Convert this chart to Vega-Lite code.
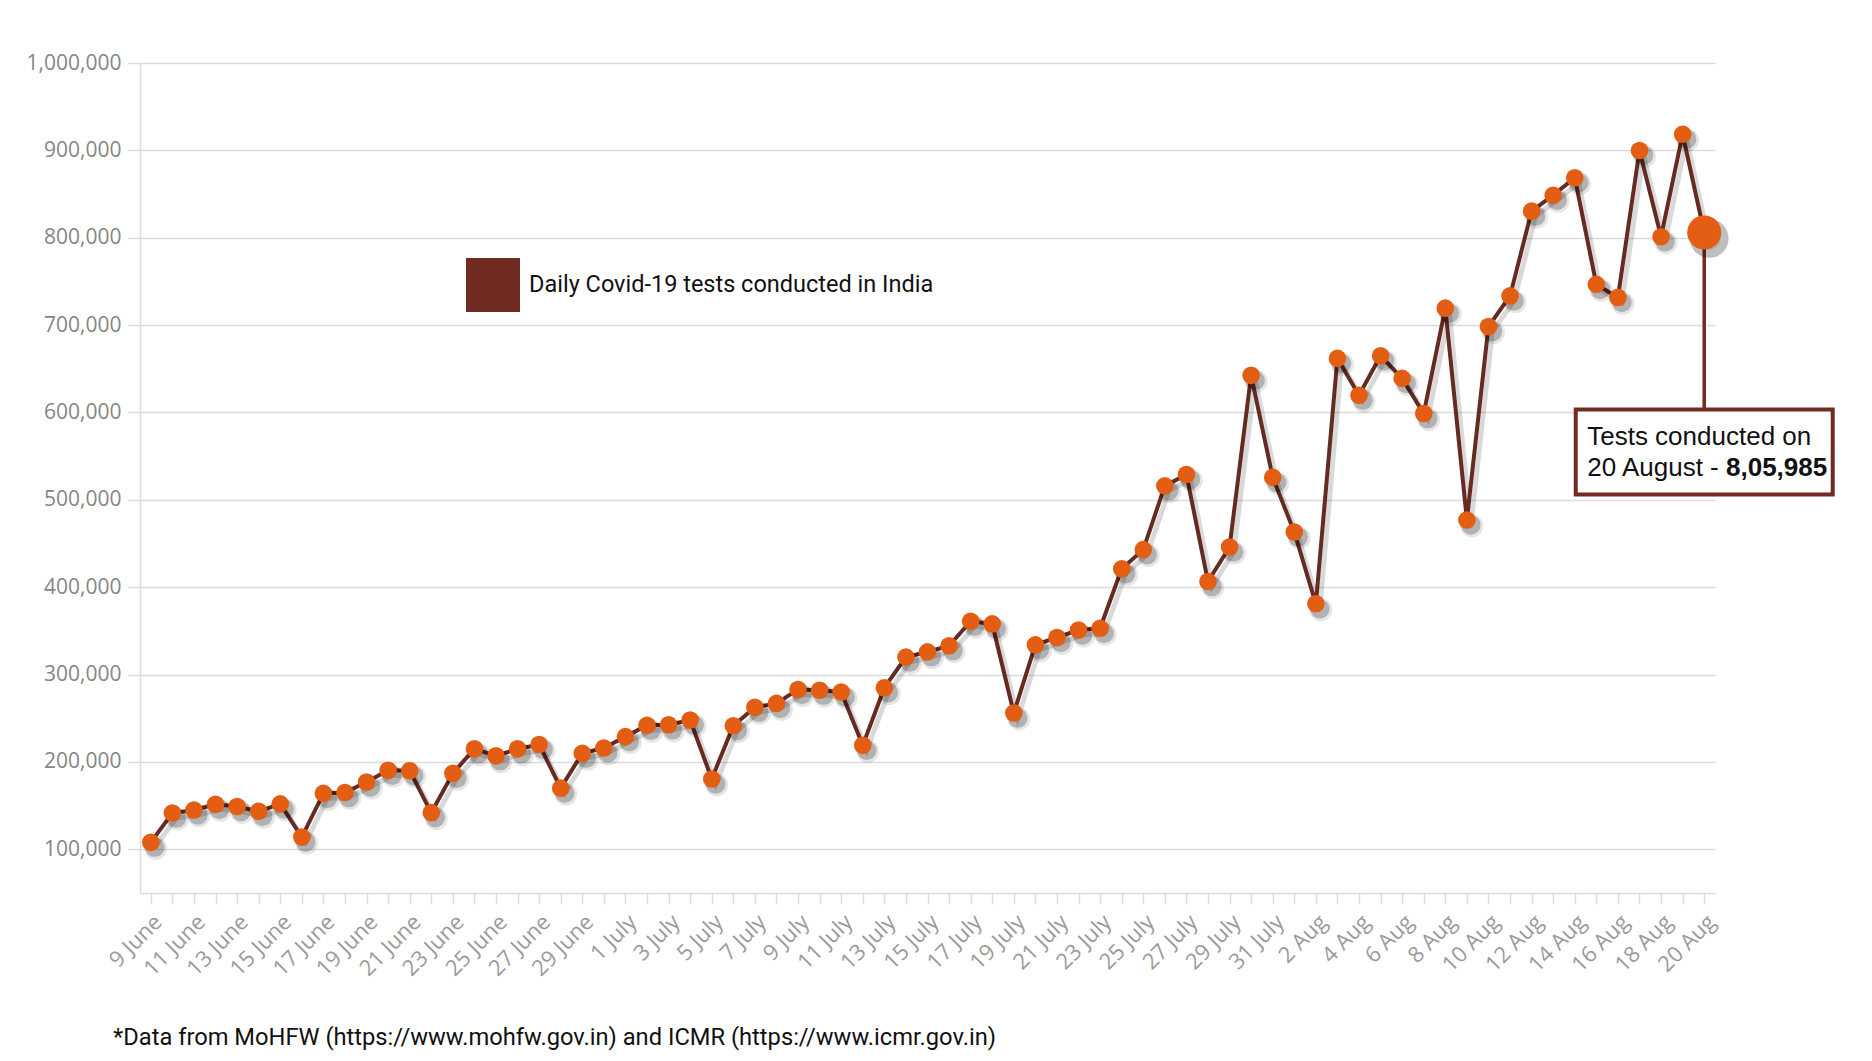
{
  "$schema": "https://vega.github.io/schema/vega-lite/v6.json",
  "autosize": {"type": "none"},
  "width": 1575,
  "height": 830,
  "padding": {"left": 140, "top": 63, "right": 157, "bottom": 168},
  "background": "white",
  "config": {"view": {"stroke": null}},
  "title": {
    "text": "*Data from MoHFW (https://www.mohfw.gov.in) and ICMR (https://www.icmr.gov.in)",
    "orient": "bottom",
    "anchor": "start",
    "frame": "group",
    "font": "Roboto",
    "fontSize": 23.7,
    "fontWeight": "normal",
    "color": "#111111",
    "dx": -27,
    "offset": 46
  },
  "data": {
    "values": [
      {"date": "9 June", "tests": 108000},
      {"date": "10 June", "tests": 141500},
      {"date": "11 June", "tests": 145000},
      {"date": "12 June", "tests": 151500},
      {"date": "13 June", "tests": 149000},
      {"date": "14 June", "tests": 143500},
      {"date": "15 June", "tests": 152000},
      {"date": "16 June", "tests": 114000},
      {"date": "17 June", "tests": 164000},
      {"date": "18 June", "tests": 165000},
      {"date": "19 June", "tests": 177000},
      {"date": "20 June", "tests": 190500},
      {"date": "21 June", "tests": 190000},
      {"date": "22 June", "tests": 142000},
      {"date": "23 June", "tests": 187000},
      {"date": "24 June", "tests": 215000},
      {"date": "25 June", "tests": 207000},
      {"date": "26 June", "tests": 215000},
      {"date": "27 June", "tests": 220000},
      {"date": "28 June", "tests": 170000},
      {"date": "29 June", "tests": 210000},
      {"date": "30 June", "tests": 216000},
      {"date": "1 July", "tests": 229000},
      {"date": "2 July", "tests": 242000},
      {"date": "3 July", "tests": 242500},
      {"date": "4 July", "tests": 248000},
      {"date": "5 July", "tests": 180500},
      {"date": "6 July", "tests": 241500},
      {"date": "7 July", "tests": 262500},
      {"date": "8 July", "tests": 267000},
      {"date": "9 July", "tests": 283000},
      {"date": "10 July", "tests": 282000},
      {"date": "11 July", "tests": 280000},
      {"date": "12 July", "tests": 219000},
      {"date": "13 July", "tests": 285000},
      {"date": "14 July", "tests": 320000},
      {"date": "15 July", "tests": 326000},
      {"date": "16 July", "tests": 333000},
      {"date": "17 July", "tests": 361000},
      {"date": "18 July", "tests": 358000},
      {"date": "19 July", "tests": 256000},
      {"date": "20 July", "tests": 334000},
      {"date": "21 July", "tests": 342500},
      {"date": "22 July", "tests": 351000},
      {"date": "23 July", "tests": 353000},
      {"date": "24 July", "tests": 421000},
      {"date": "25 July", "tests": 443000},
      {"date": "26 July", "tests": 516000},
      {"date": "27 July", "tests": 529000},
      {"date": "28 July", "tests": 406500},
      {"date": "29 July", "tests": 446000},
      {"date": "30 July", "tests": 642500},
      {"date": "31 July", "tests": 525700},
      {"date": "1 Aug", "tests": 463200},
      {"date": "2 Aug", "tests": 381000},
      {"date": "3 Aug", "tests": 661900},
      {"date": "4 Aug", "tests": 619700},
      {"date": "5 Aug", "tests": 665000},
      {"date": "6 Aug", "tests": 639000},
      {"date": "7 Aug", "tests": 598800},
      {"date": "8 Aug", "tests": 719400},
      {"date": "9 Aug", "tests": 477000},
      {"date": "10 Aug", "tests": 698300},
      {"date": "11 Aug", "tests": 733400},
      {"date": "12 Aug", "tests": 830400},
      {"date": "13 Aug", "tests": 848700},
      {"date": "14 Aug", "tests": 868700},
      {"date": "15 Aug", "tests": 746600},
      {"date": "16 Aug", "tests": 731700},
      {"date": "17 Aug", "tests": 899900},
      {"date": "18 Aug", "tests": 801100},
      {"date": "19 Aug", "tests": 918500},
      {"date": "20 Aug", "tests": 805985}
    ]
  },
  "encoding": {
    "x": {
      "field": "date",
      "type": "ordinal",
      "sort": null,
      "scale": {"type": "point", "padding": 0.5},
      "axis": {
        "title": null,
        "labelAngle": -45,
        "labelFont": "Open Sans",
        "labelFontSize": 22,
        "labelColor": "#9a9a9a",
        "labelOverlap": false,
        "labelBound": false,
        "labelPadding": 7,
        "labelExpr": "(split(datum.value,' ')[1] == 'Aug') == (parseInt(split(datum.value,' ')[0]) % 2 == 0) ? datum.value : ''",
        "domainColor": "#dcdcdc",
        "domainWidth": 1.5,
        "tickColor": "#dcdcdc",
        "tickWidth": 1.5,
        "tickSize": 11,
        "grid": false
      }
    },
    "y": {
      "field": "tests",
      "type": "quantitative",
      "scale": {"domain": [50000, 1000000], "nice": false, "zero": false},
      "axis": {
        "title": null,
        "values": [100000, 200000, 300000, 400000, 500000, 600000, 700000, 800000, 900000, 1000000],
        "format": ",d",
        "labelFont": "Open Sans",
        "labelFontSize": 21,
        "labelColor": "#868686",
        "labelPadding": 7,
        "domainColor": "#dcdcdc",
        "domainWidth": 1.5,
        "tickColor": "#dcdcdc",
        "tickWidth": 1.5,
        "tickSize": 12,
        "grid": true,
        "gridColor": "#dcdcdc",
        "gridWidth": 1.5
      }
    }
  },
  "layer": [
    {
      "mark": {"type": "line", "strokeWidth": 5, "xOffset": 4, "yOffset": 5, "color": "#000000", "opacity": 0.15}
    },
    {
      "mark": {"type": "line", "strokeWidth": 4},
      "encoding": {
        "color": {
          "datum": "Daily Covid-19 tests conducted in India",
          "scale": {"range": ["#652a22"]},
          "legend": {
            "orient": "none",
            "legendX": 326,
            "legendY": 195,
            "title": null,
            "symbolType": "square",
            "symbolSize": 2916,
            "symbolFillColor": "#722b22",
            "symbolStrokeColor": "#722b22",
            "symbolStrokeWidth": 0,
            "labelFont": "Roboto",
            "labelFontSize": 23.5,
            "labelColor": "#111111",
            "labelOffset": 9,
            "labelLimit": 1000,
            "encode": {
              "symbols": {"update": {"fill": {"value": "#722b22"}, "stroke": {"value": "#722b22"}, "strokeWidth": {"value": 0}, "opacity": {"value": 1}}}
            }
          }
        }
      }
    },
    {
      "mark": {"type": "circle", "size": 520, "xOffset": 5, "yOffset": 6, "color": "#000000", "opacity": 0.1}
    },
    {
      "mark": {"type": "circle", "size": 380, "xOffset": 4, "yOffset": 5, "color": "#000000", "opacity": 0.22}
    },
    {
      "transform": [{"filter": "datum.date != '20 Aug'"}],
      "mark": {"type": "circle", "size": 310, "color": "#e35d12", "opacity": 1}
    },
    {
      "transform": [{"filter": "datum.date == '20 Aug'"}],
      "mark": {"type": "rule", "color": "#722b22", "strokeWidth": 3.5},
      "encoding": {"y2": {"datum": 560000}}
    },
    {
      "transform": [{"filter": "datum.date == '20 Aug'"}],
      "mark": {"type": "circle", "size": 1500, "xOffset": 5, "yOffset": 6, "color": "#000000", "opacity": 0.25}
    },
    {
      "transform": [{"filter": "datum.date == '20 Aug'"}],
      "mark": {"type": "circle", "size": 1160, "color": "#e35d12", "opacity": 1}
    },
    {
      "transform": [{"filter": "datum.date == '20 Aug'"}],
      "mark": {
        "type": "point",
        "shape": "M-1,-0.3307H1V0.3307H-1Z",
        "size": 66049,
        "filled": true,
        "fill": "#ffffff",
        "stroke": "#722b22",
        "strokeWidth": 4,
        "opacity": 1,
        "yOffset": 219.5
      }
    },
    {
      "transform": [{"filter": "datum.date == '20 Aug'"}],
      "mark": {"type": "text", "text": "Tests conducted on", "align": "left", "baseline": "middle", "dx": -117, "dy": 204.5, "font": "Liberation Sans", "fontSize": 26, "color": "#111111"}
    },
    {
      "transform": [{"filter": "datum.date == '20 Aug'"}],
      "mark": {"type": "text", "text": "20 August -", "align": "left", "baseline": "middle", "dx": -117, "dy": 235.5, "font": "Liberation Sans", "fontSize": 26, "color": "#111111"}
    },
    {
      "transform": [{"filter": "datum.date == '20 Aug'"}],
      "mark": {"type": "text", "text": "8,05,985", "align": "right", "baseline": "middle", "dx": 123, "dy": 235.5, "font": "Liberation Sans", "fontSize": 26, "fontWeight": "bold", "color": "#111111"}
    }
  ]
}
